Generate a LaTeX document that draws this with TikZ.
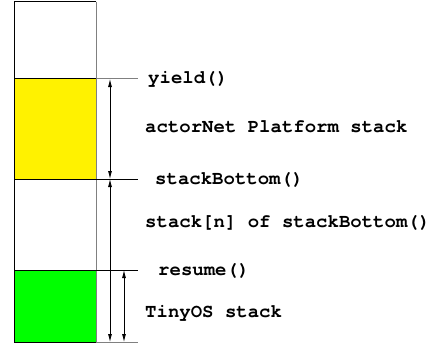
\documentclass[tikz,border=0pt]{standalone}
\usepackage{fontspec}
\IfFontExistsTF{TeX Gyre Cursor}{\setmonofont{TeX Gyre Cursor}}{\setmonofont{Liberation Mono}}
\usetikzlibrary{arrows.meta}
\begin{document}
\begin{tikzpicture}[x=1pt,y=-1pt,
  lbl/.style={font=\ttfamily\bfseries\fontsize{19}{21}\selectfont, anchor=west, inner sep=0pt},
  dim/.style={{Latex[length=8pt,width=4pt]}-{Latex[length=8pt,width=4pt]}, line width=0.8pt},
  seg/.style={line width=1pt},
  gseg/.style={line width=1pt, draw=black!50}]
\useasboundingbox (0,0) rectangle (431,345);
% stack blocks
\fill[white] (14,2) rectangle (96,79);
\fill[yellow] (14,79) rectangle (96,179);
\fill[white] (14,179) rectangle (96,270);
\fill[green] (14,270) rectangle (96,342);
\draw[seg] (96,2) -- (14,2) -- (14,342) -- (96,342);
\draw[gseg] (96,2) -- (96,342);
\draw[seg] (14,79) -- (96,79);
\draw[seg] (14,179) -- (96,179);
\draw[seg] (14,270) -- (96,270);
% ticks
\coordinate (tY) at (110,79);
\coordinate (tS) at (110,179);
\coordinate (tB) at (110,342);
\coordinate (tR) at (124,270);
\coordinate (tB2) at (124,342);
\draw[gseg] (96,79) -- (138,79);
\draw[seg] (96,179) -- (138,179);
\draw[seg] (96,270) -- (138,270);
\draw[gseg] (96,342) -- (138,342);
% dimension arrows
\draw[dim] (tY) -- (tS);
\draw[dim] (tS) -- (tB);
\draw[dim] (tR) -- (tB2);
% labels
\node[lbl] (yield) at (148,79) {yield()};
\node[lbl] (plat) at (145,127) {actorNet Platform stack};
\node[lbl] (sb) at (155,180) {stackBottom()};
\node[lbl] (stn) at (145,223) {stack[n] of stackBottom()};
\node[lbl] (res) at (158,271) {resume()};
\node[lbl] (tos) at (145,313) {TinyOS stack};
\end{tikzpicture}
\end{document}
